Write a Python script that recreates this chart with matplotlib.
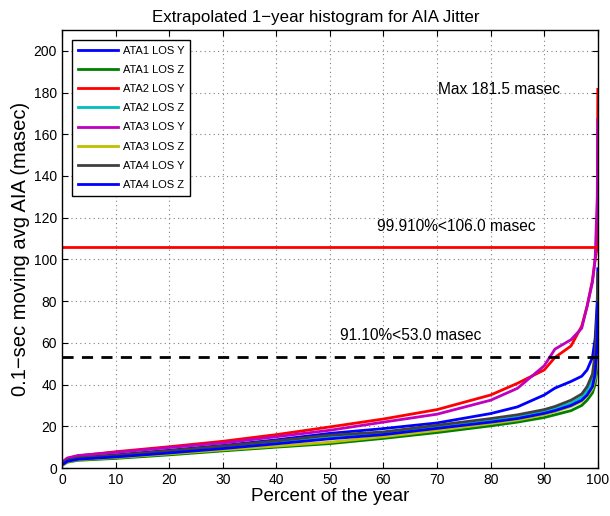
import matplotlib.pyplot as plt
import numpy as np

plt.rcParams['font.family'] = ['Liberation Sans', 'DejaVu Sans']

# percent of the year at which values were read
pct = [0, 1, 3, 10, 20, 30, 40, 50, 60, 70, 80, 85, 90, 92, 95, 97, 98, 99, 99.5, 99.9, 100]

ata1_y = [2.0, 3.8, 4.8, 6.3, 8.5, 10.8, 13.5, 16.6, 18.9, 21.6, 26.1, 29.3, 35.0, 38.3, 41.5, 44.0, 47.0, 53.0, 62.0, 80.0, 95.5]
ata1_z = [1.2, 2.8, 3.7, 4.6, 6.3, 8.2, 10.0, 11.7, 14.2, 17.0, 20.2, 22.0, 24.2, 25.5, 27.5, 30.0, 32.5, 36.0, 40.0, 48.0, 55.0]
ata2_y = [2.5, 4.5, 5.8, 7.8, 10.2, 12.8, 16.0, 19.7, 23.5, 28.0, 35.0, 40.6, 47.0, 53.0, 58.5, 68.0, 77.5, 90.0, 100.0, 106.0, 181.5]
ata2_z = [1.8, 3.5, 4.5, 5.6, 7.6, 9.7, 12.0, 14.5, 16.5, 19.5, 22.5, 24.3, 27.0, 28.5, 31.0, 34.0, 37.0, 42.0, 50.0, 65.0, 85.0]
ata3_y = [2.8, 4.8, 6.0, 7.5, 9.8, 12.0, 15.0, 18.1, 22.0, 25.8, 32.5, 38.2, 49.0, 57.0, 61.5, 67.0, 77.5, 89.0, 100.0, 130.0, 167.0]
ata3_z = [1.4, 3.0, 4.0, 5.0, 6.8, 8.7, 10.5, 12.4, 15.0, 18.0, 21.3, 23.0, 25.5, 27.0, 29.5, 32.0, 34.5, 38.0, 43.0, 52.0, 60.0]
ata4_y = [2.0, 3.8, 4.8, 6.0, 8.2, 10.5, 13.0, 15.7, 17.3, 20.5, 23.7, 25.5, 28.0, 29.5, 32.5, 35.5, 39.0, 45.0, 55.0, 75.0, 93.5]
ata4_z = [1.5, 3.2, 4.2, 5.3, 7.2, 9.3, 11.6, 14.0, 16.0, 19.0, 22.0, 23.7, 26.2, 27.5, 30.0, 32.5, 35.0, 39.0, 45.0, 60.0, 79.0]

names = ['ATA1 LOS Y', 'ATA1 LOS Z', 'ATA2 LOS Y', 'ATA2 LOS Z',
         'ATA3 LOS Y', 'ATA3 LOS Z', 'ATA4 LOS Y', 'ATA4 LOS Z']
series = [ata1_y, ata1_z, ata2_y, ata2_z, ata3_y, ata3_z, ata4_y, ata4_z]
colors = ['#0000ff', '#008000', '#ff0000', '#00bfbf',
          '#bf00bf', '#bfbf00', '#404040', '#0000ff']

limit_hi = 106.0
limit_lo = 53.0

fig = plt.figure(figsize=(6.1, 5.16), dpi=100)
ax = fig.add_axes([0.1016, 0.093, 0.8784, 0.849])

for vals, name, c in zip(series, names, colors):
    ax.plot(pct, vals, color=c, lw=2, label=name)

ax.axhline(limit_hi, color='#ff0000', lw=2)
ax.axhline(limit_lo, color='k', lw=2, ls=(0, (4, 3)))

ax.text(70.2, 181.5, 'Max 181.5 masec', fontsize=11.2, va='center', ha='left')
ax.text(58.8, 116, '99.910%<106.0 masec', fontsize=11.2, va='center', ha='left')
ax.text(51.8, 63.5, '91.10%<53.0 masec', fontsize=11.2, va='center', ha='left')

ax.set_xlim(0, 100)
ax.set_ylim(0, 210)
ax.set_xticks(np.arange(0, 101, 10))
ax.set_yticks(np.arange(0, 201, 20))
ax.grid(True, ls=(0, (1, 3)), color='#808080', lw=0.8)
ax.tick_params(direction='in', top=True, right=True, labelsize=10, length=4)
for s in ax.spines.values():
    s.set_linewidth(1)

ax.set_xlabel('Percent of the year', fontsize=13.5, labelpad=1)
ax.set_ylabel('0.1\u2212sec moving avg AIA (masec)', fontsize=14.5, labelpad=3)
ax.set_title('Extrapolated 1\u2212year histogram for AIA Jitter', fontsize=12.2, pad=6, x=0.474)

leg = ax.legend(loc='upper left', fontsize=8, handlelength=3.6, handletextpad=0.4,
                labelspacing=0.82, borderpad=0.55, borderaxespad=0.9,
                fancybox=False, framealpha=1)
leg.get_frame().set_edgecolor('k')
leg.get_frame().set_linewidth(1)

fig.savefig('out.png', dpi=100)
